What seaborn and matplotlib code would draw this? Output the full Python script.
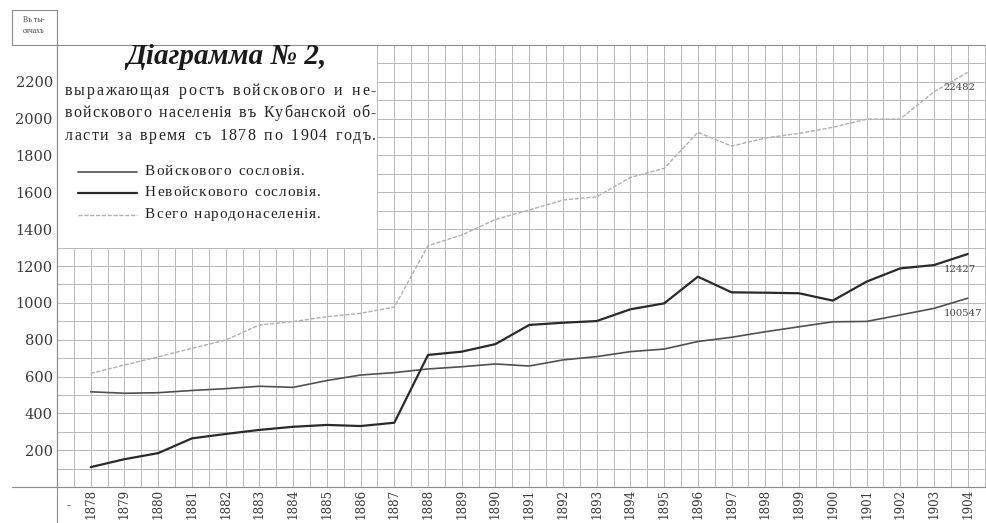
import numpy as np
import pandas as pd
import matplotlib
matplotlib.use("Agg")
import matplotlib.pyplot as plt
from matplotlib.lines import Line2D
from matplotlib.patches import Rectangle
import seaborn as sns

# ----------------------------------------
# Data (thousands of people)
# ----------------------------------------
years = list(range(1878, 1905))
voiskovoe = [517, 509, 512, 524, 534, 547, 541, 578, 608, 621,
             641, 653, 668, 657, 690, 708, 735, 749, 790, 813,
             843, 870, 897, 899, 934, 970, 1025]
nevoiskovoe = [108, 151, 184, 264, 288, 310, 327, 337, 331, 349,
               717, 735, 776, 880, 892, 901, 965, 997, 1142, 1057,
               1055, 1052, 1012, 1115, 1187, 1205, 1265]
vsego = [617, 662, 707, 753, 798, 880, 898, 925, 943, 977,
         1310, 1368, 1453, 1504, 1558, 1576, 1681, 1730, 1926, 1851,
         1895, 1920, 1953, 1997, 1998, 2146, 2252]
y_ticks = list(range(200, 2201, 200))
end_labels = ["22482", "12427", "100547"]
legend_labels = ["Войскового сословія.", "Невойскового сословія.", "Всего народонаселенія."]
title = "Діаграмма № 2,"
subtitle = ["выражающая ростъ войскового и не-",
            "войскового населенія въ Кубанской об-",
            "ласти за время съ 1878 по 1904 годъ."]

df = pd.DataFrame({"year": years, "voisk": voiskovoe, "nevoisk": nevoiskovoe, "vsego": vsego})

sns.set_style("white")
plt.rcParams['font.family'] = ['Liberation Serif', 'DejaVu Serif']

W, H = 986, 523
fig = plt.figure(figsize=(W / 100, H / 100), dpi=100)
fig.patch.set_facecolor("white")
ax = fig.add_axes([57 / W, 36 / H, 929 / W, 442 / H])

grid_c = "#b8b8b8"
frame_c = "#8c8c8c"

# ----------------------------------------
# Lines
# ----------------------------------------
sns.lineplot(data=df, x="year", y="vsego", ax=ax, color="#b0b0b0", lw=1.0,
             linestyle=(0, (3, 1.2)), zorder=3)
sns.lineplot(data=df, x="year", y="voisk", ax=ax, color="#505050", lw=1.2, zorder=3)
sns.lineplot(data=df, x="year", y="nevoisk", ax=ax, color="#2a2a2a", lw=1.6, zorder=3)

ax.set_xlim(1877, 1877 + 929 / 33.73)
ax.set_ylim(0, 2400)
ax.set_xlabel("")
ax.set_ylabel("")

# grid: every half year and every 100
ax.set_xticks(years)
ax.set_xticks(np.arange(1877.5, 1905, 1.0), minor=True)
ax.set_yticks(y_ticks)
ax.set_yticks(np.arange(100, 2401, 200), minor=True)
ax.set_xticklabels([str(y) for y in years], rotation=90, va="top",
                   family="DejaVu Serif", fontsize=8.6, color="#3a3a3a")
ax.set_yticklabels([str(v) for v in y_ticks], family="DejaVu Serif",
                   fontsize=10.5, color="#3a3a3a")
ax.grid(which="both", color=grid_c, lw=0.7)
ax.set_axisbelow(True)
ax.tick_params(axis="x", which="major", length=0, pad=1.5)
ax.tick_params(axis="x", which="minor", length=26, width=0.7, color=grid_c, direction="out")
ax.tick_params(axis="y", which="both", length=0, pad=3)

for side in ["left", "bottom", "top"]:
    ax.spines[side].set_color(frame_c)
    ax.spines[side].set_linewidth(0.8)
ax.spines["right"].set_visible(False)

# white box with the caption
ax.add_patch(Rectangle((1877, 1300), 9.5, 1100, facecolor="white",
                       edgecolor=grid_c, lw=0.7, zorder=1))

# end values
for val, lab in zip([vsego[-1], nevoiskovoe[-1], voiskovoe[-1]], end_labels):
    ax.text(1904 - 0.72, val - 85, lab, fontsize=7.2, family="DejaVu Serif",
            color="#444444", ha="left", va="center", clip_on=False)


def px(x, y):
    return x / W, 1 - y / H


def fline(x0, y0, x1, y1, **kw):
    fig.add_artist(Line2D([x0 / W, x1 / W], [1 - y0 / H, 1 - y1 / H],
                          transform=fig.transFigure, color=frame_c, lw=0.8, **kw))


fline(57, 10, 57, 523)
fline(12, 487, 57, 487)
fline(12, 10, 57, 10)
fline(12, 10, 12, 45)
fline(12, 45, 57, 45)

fig.text(*px(34, 20), "Въ ты-", fontsize=5.5, ha="center", va="center", color="#444444")
fig.text(*px(34, 31), "сячахъ", fontsize=5.5, ha="center", va="center", color="#444444")
fig.text(*px(68, 506), "-", fontsize=8, ha="center", va="center", color="#444444")

# title
fig.text(*px(226, 56), title, fontsize=21, fontweight="bold", fontstyle="italic",
         ha="center", va="center", color="#1a1a1a")

# letter-spaced text, stretched to a given width
renderer = fig.canvas.get_renderer()


def spaced(line, y, x0, x1, size, color="#222222"):
    chars = list(line)
    texts = [fig.text(0, 0, c, fontsize=size, ha="left", va="baseline", color=color)
             for c in chars]
    widths = []
    for c, t in zip(chars, texts):
        widths.append(size * 100 / 72 * 0.25 if c == " " else t.get_window_extent(renderer).width)
    n_sp = line.count(" ")
    track = (x1 - x0 - sum(widths)) / (len(chars) - 1 + 1.2 * n_sp)
    x = x0
    for c, t, w in zip(chars, texts, widths):
        t.set_position(px(x, y))
        x += w + (track * 2.2 if c == " " else track)


for line, y in zip(subtitle, [95, 117, 140]):
    spaced(line, y, 65, 376, 11.5)

# legend
leg_styles = [dict(color="#505050", lw=1.2),
              dict(color="#2a2a2a", lw=1.6),
              dict(color="#b0b0b0", lw=1.0, linestyle=(0, (3, 1.2)))]
for lab, st, y in zip(legend_labels, leg_styles, [172, 193, 215]):
    fig.add_artist(Line2D([78 / W, 137 / W], [1 - y / H, 1 - y / H],
                          transform=fig.transFigure, **st))
    spaced(lab, y + 3, 145, 145 + len(lab) * 8.0, 11)

fig.savefig("out.png", dpi=100)
